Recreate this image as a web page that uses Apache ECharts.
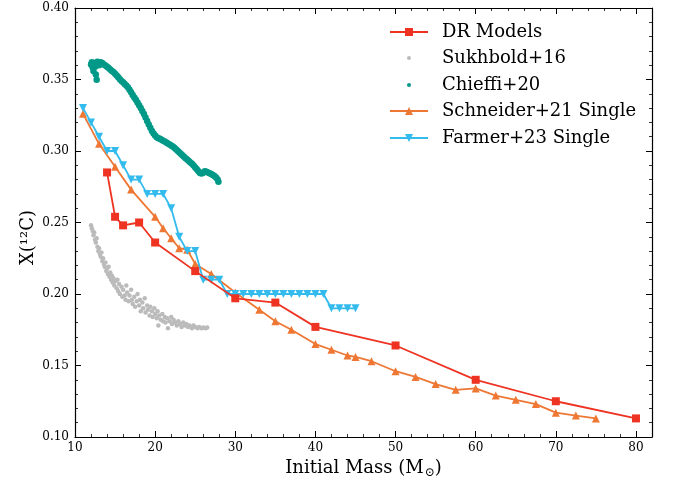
<!DOCTYPE html>
<html>
<head>
<meta charset="utf-8">
<script src="https://cdn.jsdelivr.net/npm/echarts@6/dist/echarts.min.js"></script>
<style>
  html, body { margin: 0; padding: 0; background: #fff; }
  #chart { width: 673px; height: 483px; }
</style>
</head>
<body>
<div id="chart"></div>
<script>
// DR models
const drMass = [14, 15, 16, 18, 20, 25, 30, 35, 40, 50, 60, 70, 80];
const drC = [0.285, 0.254, 0.248, 0.250, 0.236, 0.216, 0.197, 0.194, 0.177, 0.164, 0.140, 0.125, 0.113];

// Schneider+21 single stars
const schMass = [11, 13, 15, 17, 20, 21, 22, 23, 24, 25, 27, 30, 33, 35, 37, 40, 42, 44, 45, 47,
  50, 52.5, 55, 57.5, 60, 62.5, 65, 67.5, 70, 72.5, 75];
const schC = [0.326, 0.305, 0.289, 0.273, 0.254, 0.246, 0.239, 0.232, 0.231, 0.221, 0.214, 0.201,
  0.189, 0.181, 0.175, 0.165, 0.161, 0.157, 0.156, 0.153, 0.146, 0.142, 0.137, 0.133, 0.134,
  0.129, 0.126, 0.123, 0.117, 0.115, 0.113];

// Farmer+23 single stars
const farMass = [11, 12, 13, 14, 15, 16, 17, 18, 19, 20, 21, 22, 23, 24, 25, 26, 27, 28,
  29, 30, 31, 32, 33, 34, 35, 36, 37, 38, 39, 40, 41, 42, 43, 44, 45];
const farC = [0.330, 0.320, 0.310, 0.300, 0.300, 0.290, 0.280, 0.280, 0.270, 0.270, 0.270,
  0.260, 0.240, 0.230, 0.230, 0.210, 0.210, 0.210,
  0.200, 0.200, 0.200, 0.200, 0.200, 0.200, 0.200, 0.200, 0.200, 0.200, 0.200, 0.200, 0.200,
  0.190, 0.190, 0.190, 0.190];

// Chieffi+20 (dense grid)
const chiMass = [12.0, 12.1, 12.2, 12.3, 12.4, 12.5, 12.6, 12.7, 12.8, 12.9, 13.0, 13.2, 13.4,
  13.6, 13.8, 14.0, 14.2, 14.4, 14.6, 14.8, 15.0, 15.2, 15.4, 15.6, 15.8, 16.0, 16.2, 16.4,
  16.6, 16.8, 17.0, 17.2, 17.4, 17.6, 17.8, 18.0, 18.2, 18.4, 18.6, 18.8, 19.0, 19.2, 19.4,
  19.6, 19.8, 20.0, 20.2, 20.4, 20.6, 20.8, 21.0, 21.2, 21.4, 21.6, 21.8, 22.0, 22.2, 22.4,
  22.6, 22.8, 23.0, 23.2, 23.4, 23.6, 23.8, 24.0, 24.2, 24.4, 24.6, 24.8, 25.0, 25.2, 25.4,
  25.6, 25.8, 26.0, 26.2, 26.4, 26.6, 26.8, 27.0, 27.2, 27.4, 27.6, 27.8, 27.9];
const chiC = [0.3605, 0.3620, 0.3585, 0.3560, 0.3615, 0.3590, 0.3535, 0.3498, 0.3625, 0.3612,
  0.3600, 0.3620, 0.3615, 0.3605, 0.3598, 0.3590, 0.3580, 0.3570, 0.3560, 0.3552, 0.3540,
  0.3528, 0.3515, 0.3502, 0.3490, 0.3480, 0.3468, 0.3458, 0.3445, 0.3428, 0.3410, 0.3392,
  0.3375, 0.3358, 0.3340, 0.3320, 0.3300, 0.3280, 0.3258, 0.3235, 0.3210, 0.3185, 0.3162,
  0.3140, 0.3122, 0.3108, 0.3097, 0.3090, 0.3085, 0.3078, 0.3072, 0.3066, 0.3060, 0.3053,
  0.3046, 0.3039, 0.3031, 0.3022, 0.3012, 0.3002, 0.2992, 0.2981, 0.2970, 0.2960, 0.2950,
  0.2940, 0.2930, 0.2920, 0.2910, 0.2898, 0.2885, 0.2872, 0.2858, 0.2847, 0.2842, 0.2848,
  0.2858, 0.2855, 0.2850, 0.2845, 0.2840, 0.2832, 0.2825, 0.2815, 0.2800, 0.2785];

// Sukhbold+16 (scattered grid)
const sukMass = [12.0, 12.1, 12.2, 12.3, 12.4, 12.5, 12.6, 12.7, 12.8, 12.9, 13.0, 13.1, 13.2,
  13.3, 13.4, 13.5, 13.6, 13.7, 13.8, 13.9, 14.0, 14.1, 14.2, 14.3, 14.4, 14.5, 14.6, 14.7,
  14.8, 14.9, 15.0, 15.2, 15.3, 15.4, 15.5, 15.6, 15.8, 15.9, 16.0, 16.2, 16.3, 16.4, 16.5,
  16.7, 16.8, 17.0, 17.1, 17.2, 17.4, 17.5, 17.7, 17.8, 18.0, 18.1, 18.2, 18.4, 18.5, 18.7,
  18.8, 19.0, 19.1, 19.3, 19.4, 19.6, 19.7, 19.9, 20.0, 20.2, 20.3, 20.4, 20.5, 20.7, 20.9,
  21.0, 21.2, 21.3, 21.5, 21.6, 21.8, 22.0, 22.1, 22.3, 22.5, 22.7, 22.9, 23.1, 23.3, 23.5,
  23.7, 23.9, 24.1, 24.3, 24.6, 24.8, 25.0, 25.3, 25.5, 25.8, 26.0, 26.3, 26.5];
const sukC = [0.248, 0.246, 0.244, 0.241, 0.243, 0.238, 0.236, 0.239, 0.233, 0.230, 0.232,
  0.228, 0.226, 0.229, 0.223, 0.225, 0.221, 0.219, 0.222, 0.216, 0.218, 0.214, 0.219, 0.212,
  0.215, 0.210, 0.213, 0.208, 0.211, 0.206, 0.209, 0.204, 0.210, 0.202, 0.207, 0.200, 0.205,
  0.198, 0.203, 0.199, 0.196, 0.206, 0.201, 0.195, 0.199, 0.203, 0.196, 0.193, 0.198, 0.191,
  0.195, 0.200, 0.192, 0.196, 0.188, 0.194, 0.190, 0.197, 0.187, 0.192, 0.189, 0.185, 0.191,
  0.188, 0.184, 0.190, 0.186, 0.183, 0.188, 0.178, 0.185, 0.182, 0.186, 0.181, 0.184, 0.180,
  0.183, 0.176, 0.181, 0.184, 0.179, 0.182, 0.180, 0.178, 0.181, 0.179, 0.177, 0.180, 0.178,
  0.179, 0.177, 0.178, 0.176, 0.178, 0.177, 0.176, 0.177, 0.176, 0.1765, 0.176, 0.1765];

const seriesNames = ['DR Models', 'Sukhbold+16', 'Chieffi+20', 'Schneider+21 Single', 'Farmer+23 Single'];

const zip = (xs, ys) => xs.map((x, i) => [x, ys[i]]);
const FONT = '"DejaVu Serif", serif';
const downTri = 'path://M0,0 L10,0 L5,9 Z';

const chart = echarts.init(document.getElementById('chart'));

const frameLine = { show: true, lineStyle: { color: '#000', width: 1.2 } };
const majorTick = { show: true, inside: true, length: 6, lineStyle: { color: '#000', width: 1 } };
const minorTick = { show: true, splitNumber: 5, length: 3, lineStyle: { color: '#000', width: 0.8 } };

// one legend per row so the dot icons can stay small
const rowTops = [17, 43, 70, 96, 123];
const legendHeights = [10, 5, 5, 10, 10];
const legends = seriesNames.map((name, i) => ({
  data: [name],
  left: 384,
  top: rowTops[i],
  orient: 'vertical',
  itemWidth: 38,
  itemHeight: legendHeights[i],
  selectedMode: false,
  textStyle: { fontFamily: FONT, fontSize: 18, color: '#000', lineHeight: 20, padding: [0, 0, 0, 9] }
}));

// dot-only series are drawn as lines with hidden strokes, so the legend icons line up
const dotSeries = (name, xs, ys, color, size) => ({
  name: name,
  type: 'line',
  data: zip(xs, ys),
  symbol: 'circle',
  symbolSize: size,
  showSymbol: true,
  z: 2,
  color: color,
  lineStyle: { opacity: 0 },
  itemStyle: { color: color }
});

const option = {
  animation: false,
  backgroundColor: '#fff',
  grid: { left: 75, right: 21, top: 8, bottom: 46, outerBoundsMode: 'none' },
  legend: legends,
  xAxis: [{
    type: 'value',
    min: 10,
    max: 82,
    interval: 10,
    name: 'Initial Mass (M{sub|⊙})',
    nameLocation: 'middle',
    nameGap: 19,
    nameTextStyle: {
      fontFamily: FONT, fontSize: 18, color: '#000',
      rich: { sub: { fontFamily: FONT, fontSize: 12, color: '#000', padding: [9, 0, 0, 1] } }
    },
    axisLabel: {
      fontFamily: FONT, fontSize: 12, color: '#000', margin: 5,
      formatter: v => (v % 10 === 0 ? String(v) : '')
    },
    axisLine: frameLine,
    axisTick: majorTick,
    minorTick: minorTick,
    splitLine: { show: false }
  }, {
    type: 'value',
    position: 'top',
    min: 10,
    max: 82,
    interval: 10,
    axisLabel: { show: false },
    axisLine: frameLine,
    axisTick: majorTick,
    minorTick: minorTick,
    splitLine: { show: false }
  }],
  yAxis: [{
    type: 'value',
    min: 0.10,
    max: 0.40,
    interval: 0.05,
    name: 'X(¹²C)',
    nameLocation: 'middle',
    nameGap: 38,
    nameMoveOverlap: false,
    nameTextStyle: { fontFamily: FONT, fontSize: 18, color: '#000', padding: [0, 30, 0, 0] },
    axisLabel: {
      fontFamily: FONT, fontSize: 12, color: '#000', margin: 6,
      formatter: v => v.toFixed(2)
    },
    axisLine: frameLine,
    axisTick: majorTick,
    minorTick: minorTick,
    splitLine: { show: false }
  }, {
    type: 'value',
    position: 'right',
    min: 0.10,
    max: 0.40,
    interval: 0.05,
    axisLabel: { show: false },
    axisLine: frameLine,
    axisTick: majorTick,
    minorTick: minorTick,
    splitLine: { show: false }
  }],
  series: [
    {
      name: 'DR Models',
      type: 'line',
      data: zip(drMass, drC),
      symbol: 'rect',
      symbolSize: 8,
      z: 6,
      color: '#ee3322',
      lineStyle: { color: '#ee3322', width: 1.8 },
      itemStyle: { color: '#ee3322' }
    },
    dotSeries('Sukhbold+16', sukMass, sukC, '#bbbbbb', 4.5),
    dotSeries('Chieffi+20', chiMass, chiC, '#009988', 6.5),
    {
      name: 'Schneider+21 Single',
      type: 'line',
      data: zip(schMass, schC),
      symbol: 'triangle',
      symbolSize: 8,
      z: 4,
      color: '#ee7733',
      lineStyle: { color: '#ee7733', width: 1.8 },
      itemStyle: { color: '#ee7733' }
    },
    {
      name: 'Farmer+23 Single',
      type: 'line',
      data: zip(farMass, farC),
      symbol: downTri,
      symbolSize: 8,
      z: 5,
      color: '#33bbee',
      lineStyle: { color: '#33bbee', width: 1.8 },
      itemStyle: { color: '#33bbee' }
    }
  ]
};

chart.setOption(option);
window.addEventListener('resize', () => chart.resize());
</script>
</body>
</html>
